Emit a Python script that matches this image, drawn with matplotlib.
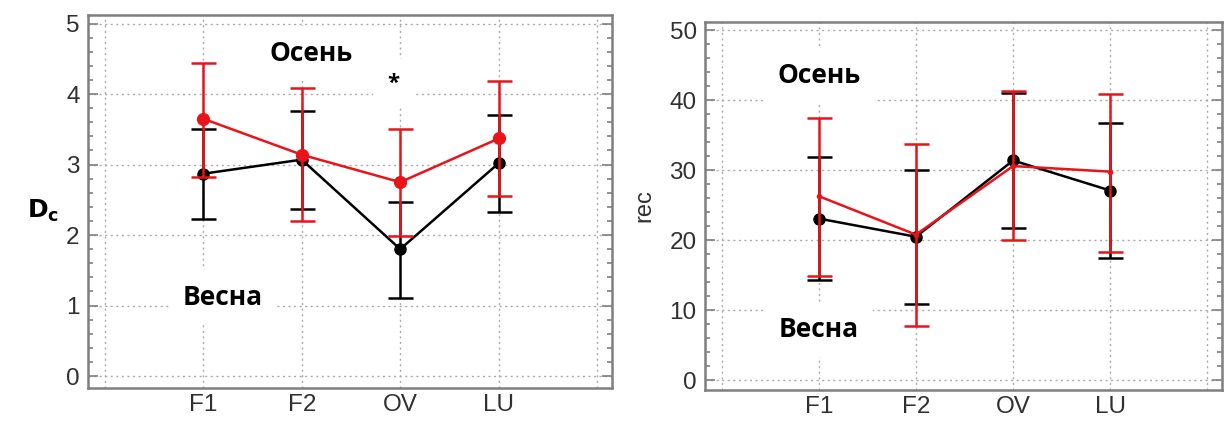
import matplotlib
matplotlib.use("Agg")
import matplotlib.pyplot as plt
from matplotlib.ticker import MultipleLocator

# categories and values
groups = ["F1", "F2", "OV", "LU"]

dc_spring = [2.87, 3.07, 1.80, 3.02]
dc_spring_lo = [2.23, 2.37, 1.10, 2.33]
dc_spring_hi = [3.50, 3.76, 2.47, 3.70]
dc_autumn = [3.65, 3.14, 2.75, 3.37]
dc_autumn_lo = [2.83, 2.20, 1.98, 2.56]
dc_autumn_hi = [4.44, 4.08, 3.51, 4.18]

rec_spring = [23.1, 20.5, 31.4, 27.1]
rec_spring_lo = [14.3, 10.9, 21.7, 17.4]
rec_spring_hi = [31.9, 30.1, 41.0, 36.7]
rec_autumn = [26.3, 20.8, 30.6, 29.8]
rec_autumn_lo = [14.9, 7.7, 20.0, 18.3]
rec_autumn_hi = [37.4, 33.8, 41.3, 40.9]

TICK_COLOR = "#303030"
SPINE_COLOR = "#7f7f7f"
LABEL_FONT = ["Liberation Sans", "DejaVu Sans"]
TEXT_FONT = ["Open Sans", "DejaVu Sans"]


def style_axes(ax, ylim, major, minor):
    ax.set_xlim(-0.17, 5.15)
    ax.set_ylim(*ylim)
    ax.set_xticks(list(range(6)))
    ax.set_xticklabels([""] + groups + [""], fontsize=17.5, color=TICK_COLOR,
                       family=LABEL_FONT)
    ax.yaxis.set_major_locator(MultipleLocator(major))
    ax.yaxis.set_minor_locator(MultipleLocator(minor))
    for lab in ax.get_yticklabels():
        lab.set_fontsize(17.5)
        lab.set_color(TICK_COLOR)
        lab.set_family(LABEL_FONT)
    ax.tick_params(axis="x", length=0, pad=4)
    ax.tick_params(axis="y", which="major", direction="in", length=7,
                   width=1.2, color=SPINE_COLOR, right=True, pad=6)
    ax.tick_params(axis="y", which="minor", direction="in", length=3.5,
                   width=1.2, color=SPINE_COLOR, right=True)
    ax.grid(True, which="major", linestyle=(0, (1.5, 2.5)), color="#aaaaaa",
            linewidth=1)
    ax.set_axisbelow(True)
    for s in ax.spines.values():
        s.set_color(SPINE_COLOR)
        s.set_linewidth(1.8)


def series(ax, y, lo, hi, color, ms, z):
    x = [1, 2, 3, 4]
    err = [[v - l for v, l in zip(y, lo)], [h - v for v, h in zip(y, hi)]]
    ax.errorbar(x, y, yerr=err, color=color, ecolor=color, lw=1.8,
                elinewidth=1.8, capsize=9, capthick=1.8, marker="o",
                markersize=ms, zorder=z)


def note(ax, x, y, s, size=19):
    ax.text(x, y, s, fontsize=size, fontweight="bold", family=TEXT_FONT,
            ha="center", va="center", zorder=2,
            bbox=dict(facecolor="white", edgecolor="none", pad=10))


fig = plt.figure(figsize=(12.25, 4.21), dpi=100)

ax1 = fig.add_axes([0.0718, 0.0784, 0.4278, 0.8856])
style_axes(ax1, (-0.17, 5.12), 1, 0.2)
series(ax1, dc_spring, dc_spring_lo, dc_spring_hi, "black", 8, 3)
series(ax1, dc_autumn, dc_autumn_lo, dc_autumn_hi, "#e8141a", 8.5, 4)
note(ax1, 2.1, 4.57, "Осень")
note(ax1, 2.93, 4.15, "*", 16)
note(ax1, 1.2, 1.11, "Весна")
fig.text(0.022, 0.50, r"$\mathbf{D_c}$", fontsize=18, ha="left", va="center")

ax2 = fig.add_axes([0.5755, 0.0736, 0.4221, 0.8744])
style_axes(ax2, (-1.4, 51.2), 10, 2)
series(ax2, rec_spring, rec_spring_lo, rec_spring_hi, "black", 8, 3)
series(ax2, rec_autumn, rec_autumn_lo, rec_autumn_hi, "#e8141a", 3, 4)
note(ax2, 1.0, 43.5, "Осень")
note(ax2, 1.0, 7.2, "Весна")
ax2.set_ylabel("rec", fontsize=17, color=TICK_COLOR, family=LABEL_FONT,
               labelpad=10)

fig.savefig("out.png", dpi=100)
